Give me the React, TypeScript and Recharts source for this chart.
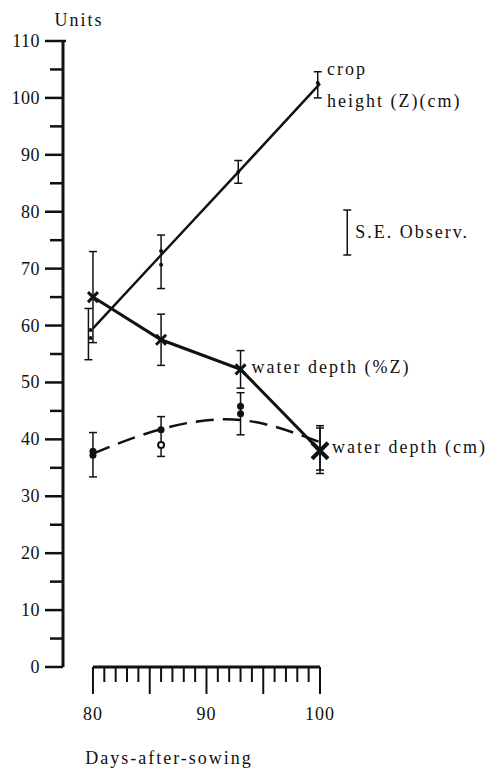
import {
  ComposedChart,
  Line,
  Scatter,
  XAxis,
  YAxis,
  ErrorBar,
  ReferenceLine,
  ReferenceDot,
} from "recharts";

// fitted curves, sampled at the observation days
const days = [80, 86, 93, 100];
const cropHeight = [59.5, 72.4, 87.4, 102.5];
const waterDepthPct = [65, 57.5, 52.3, 38];
const waterDepthPctSE = [8, 4.5, 3.3, 4];
const waterDepthCm = [37.5, 41.8, 43.4, 39.5];

// observations (means with S.E.) and single readings
const cropMeanDays = [79.6, 86, 92.8, 99.8];
const cropMean = [58.5, 71.2, 87, 102.3];
const cropSE = [4.5, 4.7, 2, 2.3];
const cropObsDays = [79.8, 79.8, 86, 86, 92.8, 99.8];
const cropObs = [59.2, 57.8, 73.1, 70.7, 87, 102.6];

const cmMeanDays = [80, 86, 93, 100];
const cmMean = [37.3, 40.5, 44.5, 38.5];
const cmSE = [3.9, 3.5, 3.7, 3.9];
const cmObsDays = [80, 80, 86, 93, 93];
const cmObs = [37.2, 37.9, 41.7, 44.5, 45.8];
const cmOpenDays = [86];
const cmOpen = [39];

const yTicks = [0, 5, 10, 15, 20, 25, 30, 35, 40, 45, 50, 55, 60, 65, 70, 75, 80, 85, 90, 95, 100, 105, 110];
const xTicks = [80, 81, 82, 83, 84, 85, 86, 87, 88, 89, 90, 91, 92, 93, 94, 95, 96, 97, 98, 99, 100];
const xLabelTicks = [80, 90, 100];

const seLegend = { day: 102.4, low: 72.4, high: 80.3 };

const INK = "#111";
const textStyle = {
  fontFamily: '"Liberation Serif", "DejaVu Serif", serif',
  fontSize: 18,
  fill: INK,
};

const chartData = days.map((day, i) => ({
  day,
  crop: cropHeight[i],
  pct: waterDepthPct[i],
  pctSE: waterDepthPctSE[i],
  cm: waterDepthCm[i],
}));
const cropMeanData = cropMeanDays.map((day, i) => ({ day, v: cropMean[i], se: cropSE[i] }));
const cropObsData = cropObsDays.map((day, i) => ({ day, v: cropObs[i] }));
const cmMeanData = cmMeanDays.map((day, i) => ({ day, v: cmMean[i], se: cmSE[i] }));
const cmObsData = cmObsDays.map((day, i) => ({ day, v: cmObs[i] }));
const cmOpenData = cmOpenDays.map((day, i) => ({ day, v: cmOpen[i] }));

// eslint-disable-next-line @typescript-eslint/no-explicit-any
const YTick = ({ x, y, payload }: any) => {
  const major = payload.value % 10 === 0;
  const len = major ? 18 : 13;
  return (
    <g>
      <line x1={x - len} y1={y} x2={payload.value === 110 ? x + 3 : x} y2={y} stroke={INK} strokeWidth={2.5} />
      {major && (
        <text x={x - len - 5} y={y + 6} textAnchor="end" style={{ ...textStyle, letterSpacing: 0.5 }}>
          {payload.value}
        </text>
      )}
    </g>
  );
};

// eslint-disable-next-line @typescript-eslint/no-explicit-any
const XTick = ({ x, y, payload }: any) => {
  const len = payload.value % 5 === 0 ? 27 : 15;
  return (
    <g>
      <line x1={x} y1={y} x2={x} y2={y + len} stroke={INK} strokeWidth={2} />
      {xLabelTicks.includes(payload.value) && (
        <text x={x} y={y + 53} textAnchor="middle" style={{ ...textStyle, letterSpacing: 1 }}>
          {payload.value}
        </text>
      )}
    </g>
  );
};

// eslint-disable-next-line @typescript-eslint/no-explicit-any
const CrossDot = ({ cx, cy, index }: any) => {
  const s = index === days.length - 1 ? 8 : 5;
  return (
    <path
      d={`M${cx - s},${cy - s}L${cx + s},${cy + s}M${cx - s},${cy + s}L${cx + s},${cy - s}`}
      stroke={INK}
      strokeWidth={index === days.length - 1 ? 4 : 3}
    />
  );
};

const textLabel =
  (lines: string[], dx: number, dy: number) =>
  // eslint-disable-next-line @typescript-eslint/no-explicit-any
  ({ viewBox }: any) => {
    const cx = viewBox.x + (viewBox.width || 0) / 2 + dx;
    const cy = viewBox.y + (viewBox.height || 0) / 2 + dy;
    return (
      <text x={cx} y={cy} style={{ ...textStyle, letterSpacing: 2 }}>
        {lines.map((l, i) => (
          <tspan key={l} x={cx} dy={i === 0 ? 0 : 32}>
            {l}
          </tspan>
        ))}
      </text>
    );
  };

export default function App() {
  return (
    <div style={{ position: "absolute", left: 0, top: 0, background: "#fff" }}>
      <ComposedChart
        width={499}
        height={769}
        data={chartData}
        margin={{ top: 41, right: 179, bottom: 0, left: 0 }}
      >
        <XAxis
          type="number"
          dataKey="day"
          domain={[77.36, 100]}
          ticks={xTicks}
          interval={0}
          axisLine={false}
          tickLine={false}
          tickSize={0}
          tickMargin={0}
          height={102}
          tick={<XTick />}
          label={{
            content: ({ viewBox }: any) => (
              <text
                x={viewBox.x + 106}
                y={viewBox.y + 97}
                textAnchor="middle"
                style={{ ...textStyle, letterSpacing: 2 }}
              >
                Days-after-sowing
              </text>
            ),
          }}
        />
        <YAxis
          type="number"
          domain={[0, 110]}
          ticks={yTicks}
          interval={0}
          width={63}
          tickSize={0}
          tickMargin={0}
          tickLine={false}
          axisLine={{ stroke: INK, strokeWidth: 3 }}
          tick={<YTick />}
          label={{
            content: ({ viewBox }: any) => (
              <text
                x={viewBox.x + viewBox.width + 16}
                y={viewBox.y - 15}
                textAnchor="middle"
                style={{ ...textStyle, letterSpacing: 2 }}
              >
                Units
              </text>
            ),
          }}
        />
        {/* x axis only spans the sampled days */}
        <ReferenceLine
          segment={[
            { x: 80, y: 0 },
            { x: 100, y: 0 },
          ]}
          stroke={INK}
          strokeWidth={3}
        />

        <Line
          dataKey="crop"
          type="linear"
          stroke={INK}
          strokeWidth={2.5}
          dot={false}
          isAnimationActive={false}
        />
        <Line
          dataKey="pct"
          type="linear"
          stroke={INK}
          strokeWidth={3}
          dot={<CrossDot />}
          isAnimationActive={false}
        >
          <ErrorBar dataKey="pctSE" direction="y" width={4} stroke={INK} strokeWidth={1.5} isAnimationActive={false} />
        </Line>
        <Line
          dataKey="cm"
          type="natural"
          stroke={INK}
          strokeWidth={2.5}
          strokeDasharray="18 9"
          dot={false}
          isAnimationActive={false}
        />

        <Scatter data={cropMeanData} dataKey="v" shape={() => <g />} isAnimationActive={false}>
          <ErrorBar dataKey="se" direction="y" width={4} stroke={INK} strokeWidth={1.5} isAnimationActive={false} />
        </Scatter>
        <Scatter
          data={cropObsData}
          dataKey="v"
          shape={({ cx, cy }: any) => <circle cx={cx} cy={cy} r={2} fill={INK} />}
          isAnimationActive={false}
        />
        <Scatter data={cmMeanData} dataKey="v" shape={() => <g />} isAnimationActive={false}>
          <ErrorBar dataKey="se" direction="y" width={4} stroke={INK} strokeWidth={1.5} isAnimationActive={false} />
        </Scatter>
        <Scatter
          data={cmObsData}
          dataKey="v"
          shape={({ cx, cy }: any) => <circle cx={cx} cy={cy} r={3.5} fill={INK} />}
          isAnimationActive={false}
        />
        <Scatter
          data={cmOpenData}
          dataKey="v"
          shape={({ cx, cy }: any) => <circle cx={cx} cy={cy} r={3} fill="#fff" stroke={INK} strokeWidth={2} />}
          isAnimationActive={false}
        />

        {/* S.E. key */}
        <ReferenceLine
          segment={[
            { x: seLegend.day, y: seLegend.low },
            { x: seLegend.day, y: seLegend.high },
          ]}
          stroke={INK}
          strokeWidth={1.5}
          ifOverflow="visible"
        />
        <ReferenceLine
          segment={[
            { x: seLegend.day - 0.35, y: seLegend.high },
            { x: seLegend.day + 0.35, y: seLegend.high },
          ]}
          stroke={INK}
          strokeWidth={1.5}
          ifOverflow="visible"
        />
        <ReferenceLine
          segment={[
            { x: seLegend.day - 0.35, y: seLegend.low },
            { x: seLegend.day + 0.35, y: seLegend.low },
          ]}
          stroke={INK}
          strokeWidth={1.5}
          ifOverflow="visible"
        />
        <ReferenceDot
          x={seLegend.day}
          y={(seLegend.low + seLegend.high) / 2}
          r={1}
          fill="none"
          stroke="none"
          ifOverflow="visible"
          label={{ content: textLabel(["S.E. Observ."], 8, 6) }}
        />

        {/* series names */}
        <ReferenceDot
          x={days[3]}
          y={cropHeight[3]}
          r={1}
          fill="none"
          stroke="none"
          label={{ content: textLabel(["crop", "height (Z)(cm)"], 7, -9) }}
        />
        <ReferenceDot
          x={days[2]}
          y={waterDepthPct[2]}
          r={1}
          fill="none"
          stroke="none"
          label={{ content: textLabel(["water depth (%Z)"], 11, 4) }}
        />
        <ReferenceDot
          x={days[3]}
          y={waterDepthCm[3]}
          r={1}
          fill="none"
          stroke="none"
          label={{ content: textLabel(["water depth (cm)"], 12, 11) }}
        />
      </ComposedChart>
    </div>
  );
}
